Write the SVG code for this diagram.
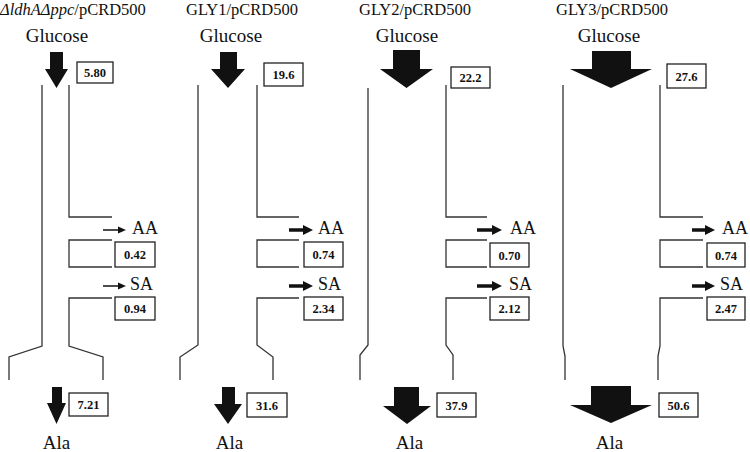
<svg xmlns="http://www.w3.org/2000/svg" width="750" height="452" viewBox="0 0 750 452">
<defs>
<style>
.t{font-family:"Liberation Serif","Times New Roman",serif;fill:#111}
.title{font-size:16.5px}
.lbl{font-size:19px;text-anchor:middle}
.met{font-size:18px}
.num{font-size:12.5px;font-weight:bold;text-anchor:middle}
.box{fill:#fff;stroke:#222;stroke-width:1.3}
.wall{fill:none;stroke:#333;stroke-width:1.3}
.blk{fill:#111}
.thin{stroke:#111;stroke-width:1.5}
.thick{stroke:#111;stroke-width:3.5}
</style>
</defs>
<rect width="750" height="452" fill="#fff"/>

<!-- titles -->
<g id="title1"><text class="t title" x="0" y="14.5"><tspan font-style="italic">ΔldhAΔppc</tspan>/pCRD500</text></g>
<g id="title2"><text class="t title" x="186" y="14.5">GLY1/pCRD500</text></g>
<g id="title3"><text class="t title" x="359" y="14.5">GLY2/pCRD500</text></g>
<g id="title4"><text class="t title" x="556" y="14.5">GLY3/pCRD500</text></g>

<!-- Glucose labels -->
<g id="glc1"><text class="t lbl" x="57" y="42">Glucose</text></g>
<g id="glc2"><text class="t lbl" x="231" y="42">Glucose</text></g>
<g id="glc3"><text class="t lbl" x="407" y="42">Glucose</text></g>
<g id="glc4"><text class="t lbl" x="609" y="42">Glucose</text></g>

<!-- Ala labels -->
<g id="ala1"><text class="t lbl" x="56.5" y="449">Ala</text></g>
<g id="ala2"><text class="t lbl" x="229.5" y="449">Ala</text></g>
<g id="ala3"><text class="t lbl" x="409.5" y="449">Ala</text></g>
<g id="ala4"><text class="t lbl" x="609.5" y="449">Ala</text></g>

<!-- AA / SA labels -->
<g id="aa1"><text class="t met" x="132" y="234">AA</text></g>
<g id="sa1"><text class="t met" x="130" y="290">SA</text></g>
<g id="aa2"><text class="t met" x="318" y="234">AA</text></g>
<g id="sa2"><text class="t met" x="318" y="290">SA</text></g>
<g id="aa3"><text class="t met" x="510" y="234">AA</text></g>
<g id="sa3"><text class="t met" x="509" y="290">SA</text></g>
<g id="aa4"><text class="t met" x="722" y="234">AA</text></g>
<g id="sa4"><text class="t met" x="720" y="290">SA</text></g>

<!-- value boxes -->
<g id="v1g"><rect class="box" x="77" y="62" width="36" height="21"/><text class="t num" x="95" y="77">5.80</text></g>
<g id="v1aa"><rect class="box" x="115" y="242" width="40" height="25"/><text class="t num" x="135" y="259">0.42</text></g>
<g id="v1sa"><rect class="box" x="115" y="297" width="40" height="23"/><text class="t num" x="135" y="313">0.94</text></g>
<g id="v1ala"><rect class="box" x="69" y="393" width="39" height="23"/><text class="t num" x="88.5" y="409">7.21</text></g>

<g id="v2g"><rect class="box" x="264" y="63" width="39" height="23"/><text class="t num" x="283.5" y="79">19.6</text></g>
<g id="v2aa"><rect class="box" x="304" y="242" width="39" height="25"/><text class="t num" x="323.5" y="259">0.74</text></g>
<g id="v2sa"><rect class="box" x="304" y="297" width="39" height="23"/><text class="t num" x="323.5" y="313">2.34</text></g>
<g id="v2ala"><rect class="box" x="247" y="393" width="40" height="24"/><text class="t num" x="267" y="409.5">31.6</text></g>

<g id="v3g"><rect class="box" x="451" y="67" width="39" height="21"/><text class="t num" x="470.5" y="82">22.2</text></g>
<g id="v3aa"><rect class="box" x="490" y="243" width="39" height="24"/><text class="t num" x="509.5" y="259.5">0.70</text></g>
<g id="v3sa"><rect class="box" x="490" y="297" width="39" height="23"/><text class="t num" x="509.5" y="313">2.12</text></g>
<g id="v3ala"><rect class="box" x="437" y="393" width="39" height="24"/><text class="t num" x="456.5" y="409.5">37.9</text></g>

<g id="v4g"><rect class="box" x="667" y="64" width="39" height="24"/><text class="t num" x="686.5" y="80.5">27.6</text></g>
<g id="v4aa"><rect class="box" x="707" y="243" width="38" height="24"/><text class="t num" x="726" y="259.5">0.74</text></g>
<g id="v4sa"><rect class="box" x="707" y="297" width="38" height="23"/><text class="t num" x="726" y="313">2.47</text></g>
<g id="v4ala"><rect class="box" x="659" y="393" width="39" height="24"/><text class="t num" x="678.5" y="409.5">50.6</text></g>

<!-- channel walls -->
<g id="walls">
<polyline class="wall" points="42,85 42,346 9,357 9,380"/>
<polyline class="wall" points="69,85 69,217 112,217"/>
<polyline class="wall" points="112,240 69,240 69,267 112,267"/>
<polyline class="wall" points="112,298 69,298 69,346 103,357 103,380"/>

<polyline class="wall" points="198,85 198,345 180,357 180,380"/>
<polyline class="wall" points="257,85 257,217 299,217"/>
<polyline class="wall" points="299,240 257,240 257,267 299,267"/>
<polyline class="wall" points="299,298 257,298 257,345 273,357 273,380"/>

<polyline class="wall" points="368,88 368,345 360,355 360,380"/>
<polyline class="wall" points="446,85 446,217 487,217"/>
<polyline class="wall" points="487,240 446,240 446,267 487,267"/>
<polyline class="wall" points="487,298 446,298 446,345 453,355 453,380"/>

<polyline class="wall" points="563,85 563,346 565,356 565,380"/>
<polyline class="wall" points="660,85 660,217 703,217"/>
<polyline class="wall" points="703,240 660,240 660,267 703,267"/>
<polyline class="wall" points="703,298 660,298 660,346 658,356 658,380"/>
</g>

<!-- connectors -->
<g id="connectors">
<!-- glucose uptake block arrows -->
<polygon class="blk" points="50,52 63,52 63,69 68,69 56.5,88 45,69 50,69"/>
<polygon class="blk" points="220,52 237,52 237,69 245,69 228,88 211,69 220,69"/>
<polygon class="blk" points="393,50 420,50 420,69 433,69 406.5,88 380,69 393,69"/>
<polygon class="blk" points="592,51 631,51 631,69 652,69 611,88 570,69 592,69"/>
<!-- Ala block arrows -->
<polygon class="blk" points="52,387 62,387 62,403 66,403 56.5,424 47,403 52,403"/>
<polygon class="blk" points="222,387 235,387 235,404 242,404 228,424 214,404 222,404"/>
<polygon class="blk" points="394,387 419,387 419,406 431,406 407,424 383,406 394,406"/>
<polygon class="blk" points="591,386 631,386 631,405 652,405 611,423 570,405 591,405"/>
<!-- AA / SA small arrows -->
<line class="thin" x1="103" y1="230" x2="119" y2="230"/><polygon class="blk" points="118,226.5 126,230 118,233.5"/>
<line class="thin" x1="103" y1="286" x2="119" y2="286"/><polygon class="blk" points="118,282.5 126,286 118,289.5"/>
<line class="thick" x1="289" y1="230" x2="304" y2="230"/><polygon class="blk" points="303,225 313,230 303,235"/>
<line class="thick" x1="289" y1="286" x2="304" y2="286"/><polygon class="blk" points="303,281 313,286 303,291"/>
<line class="thick" x1="477" y1="230" x2="493" y2="230"/><polygon class="blk" points="492,225 502,230 492,235"/>
<line class="thick" x1="477" y1="286" x2="493" y2="286"/><polygon class="blk" points="492,281 502,286 492,291"/>
<line class="thick" x1="692" y1="230" x2="706" y2="230"/><polygon class="blk" points="705,225 715,230 705,235"/>
<line class="thick" x1="692" y1="286" x2="706" y2="286"/><polygon class="blk" points="705,281 715,286 705,291"/>
</g>
</svg>
